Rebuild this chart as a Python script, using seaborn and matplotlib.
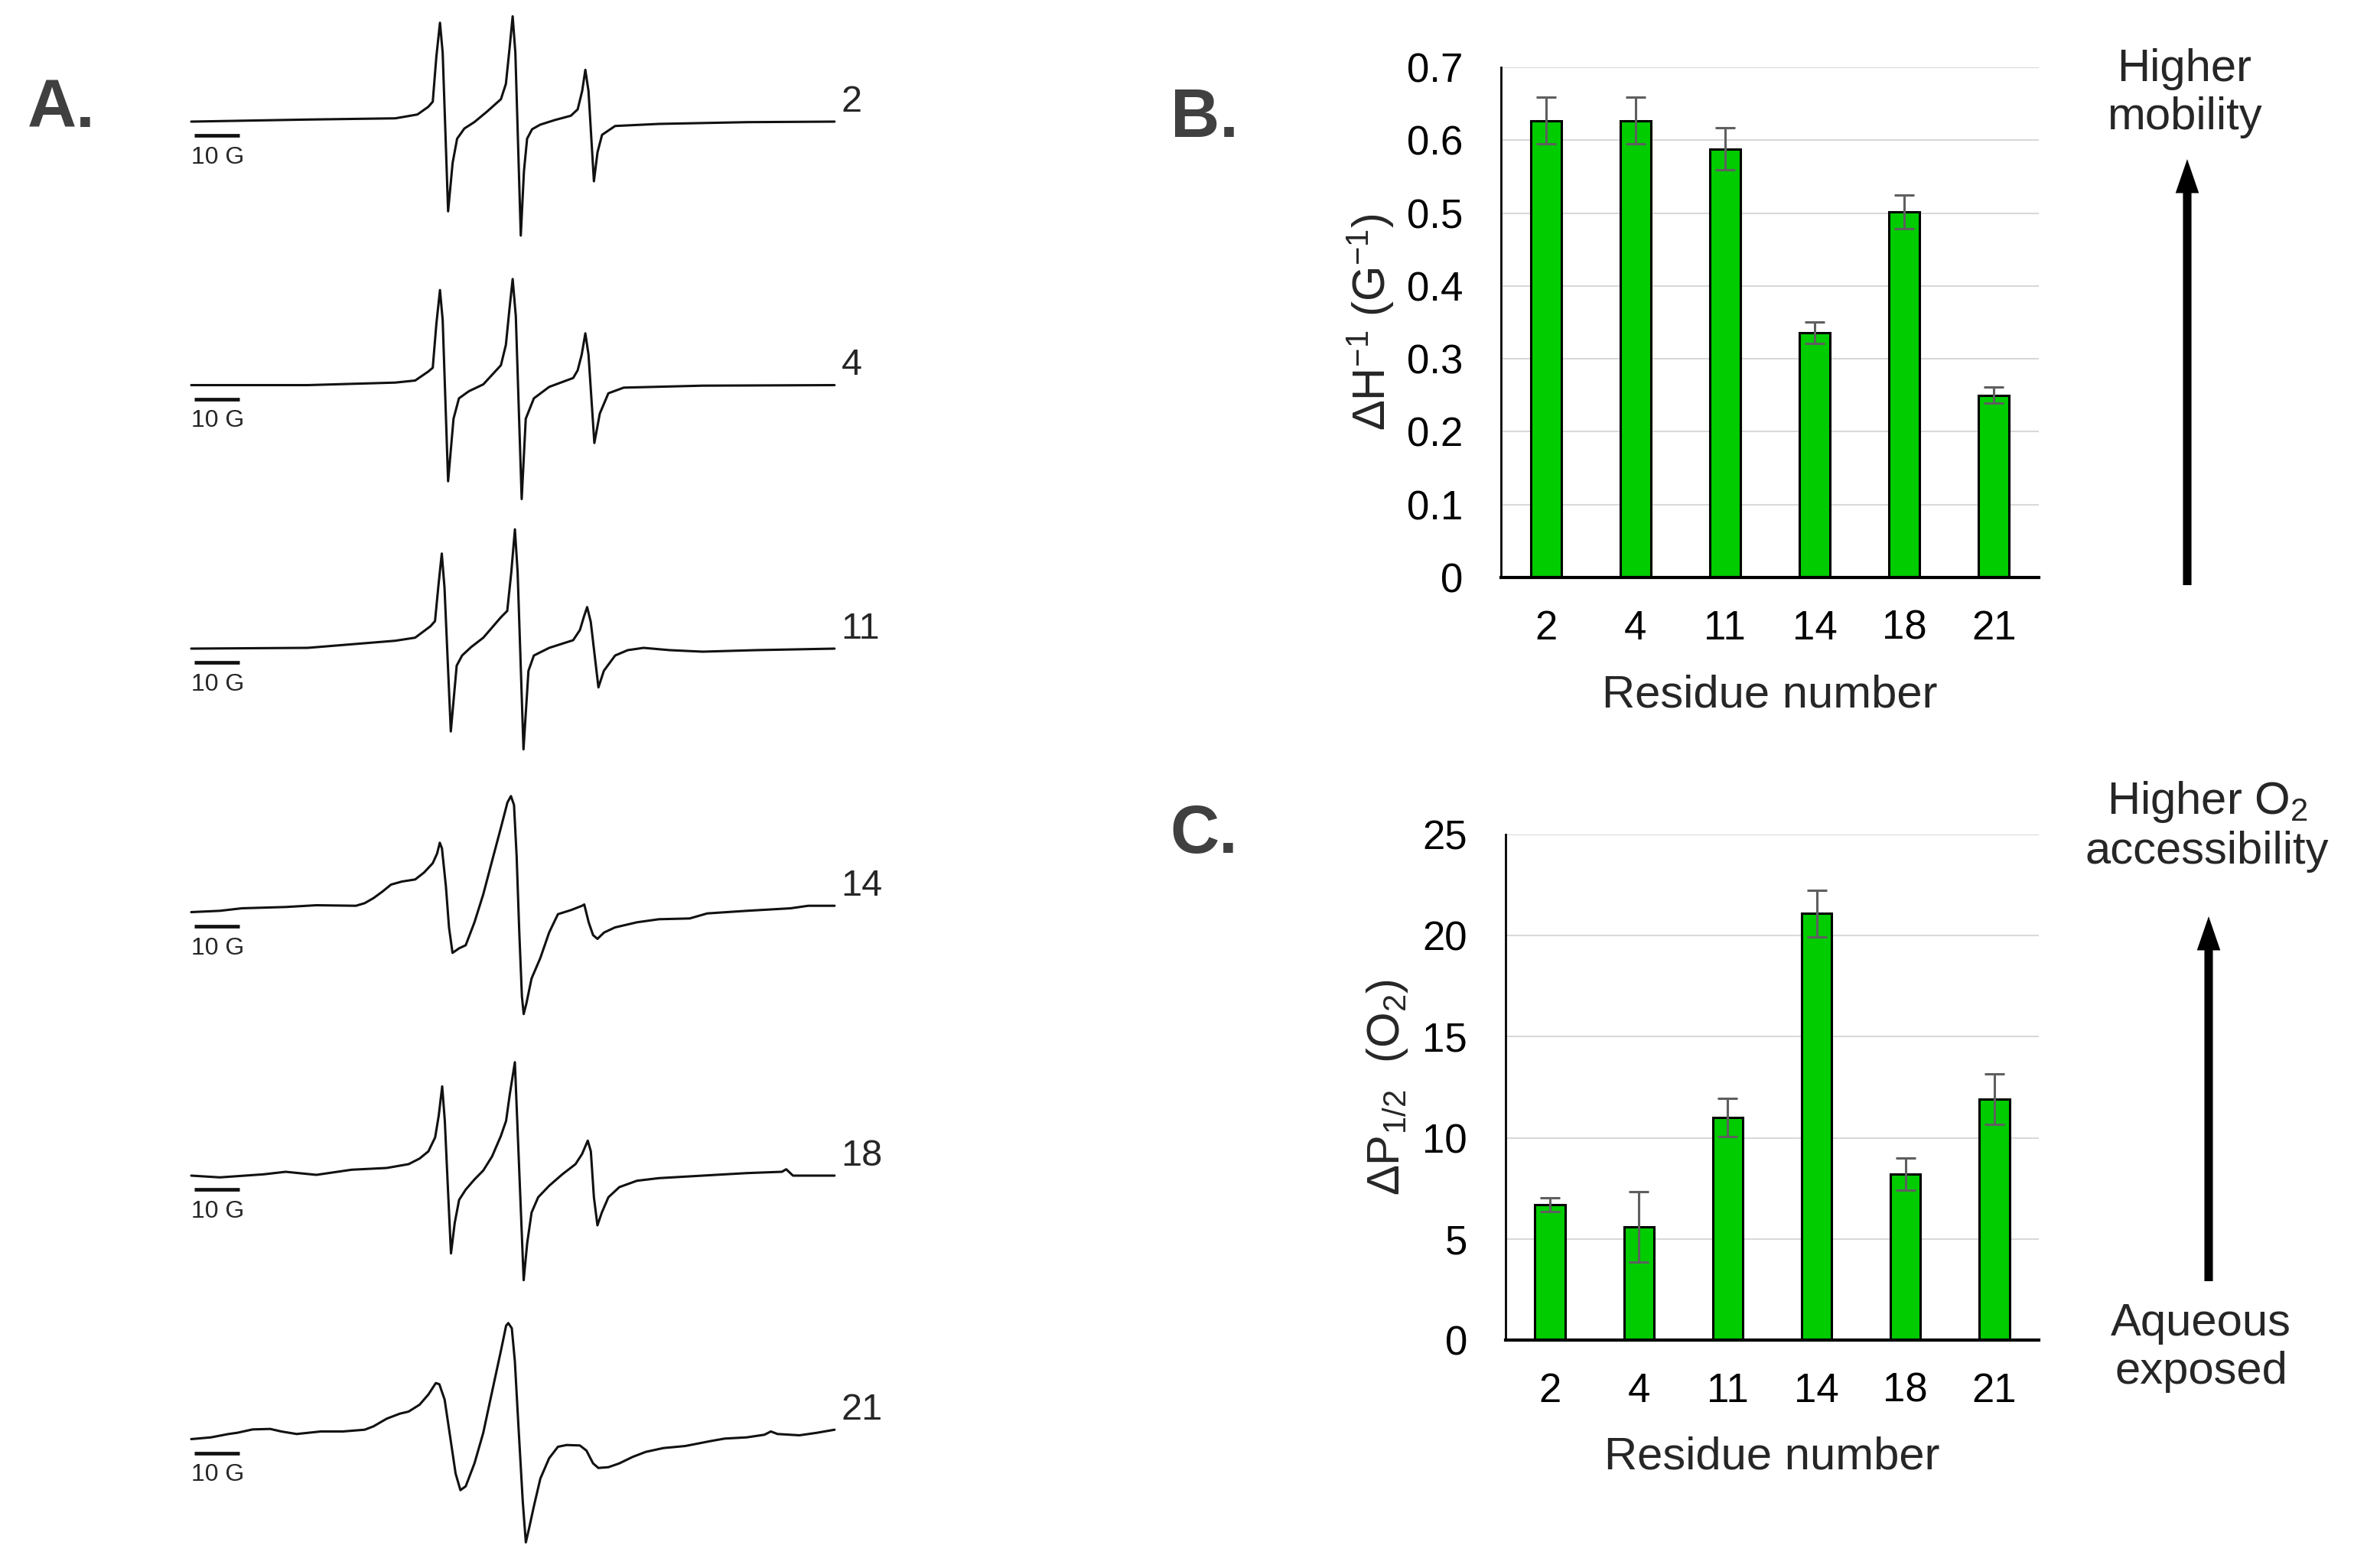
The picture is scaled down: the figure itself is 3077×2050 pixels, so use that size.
import seaborn as sns
import matplotlib.pyplot as plt
import numpy as np

# ---- data ----
residues = ["2", "4", "11", "14", "18", "21"]

# panel B: inverse central line width (G^-1)
dH_inv = [0.627, 0.627, 0.588, 0.336, 0.502, 0.250]
dH_inv_err = [0.032, 0.032, 0.029, 0.015, 0.023, 0.011]

# panel C: O2 accessibility
dP_half = [6.7, 5.6, 11.0, 21.1, 8.2, 11.9]
dP_half_err = [0.35, 1.75, 0.95, 1.15, 0.8, 1.25]

# panel A: EPR spectra, field (G, from left edge) and amplitude (a.u.)
field_2 = [0, 25.8, 45.2, 50.1, 52.5, 53.5, 54.3, 55.1, 55.7, 56.9, 57.9, 58.9, 60.5, 62.7, 65.5, 68.6,
           69.7, 70.5, 71.2, 71.8, 73.0, 73.7, 74.4, 75.5, 77.3, 80.5, 84.1, 85.6, 86.6, 87.3, 88.0,
           89.2, 90.0, 91.0, 93.9, 103.6, 123.1, 142.5]
amp_2 = [0, 0.27, 0.43, 0.93, 1.93, 2.6, 8.5, 12.93, 9.0, -11.73, -5.4, -2.23, -0.9, -0.07, 1.3, 2.93,
         4.93, 9.5, 13.77, 9.0, -14.9, -6.5, -2.23, -1.0, -0.4, 0.2, 0.77, 1.6, 4.0, 6.77, 4.0,
         -7.8, -4.0, -1.73, -0.57, -0.3, -0.07, 0]

field_4 = [0, 25.8, 45.2, 49.6, 52.5, 53.5, 54.3, 55.1, 55.7, 56.9, 58.1, 59.3, 61.5, 64.7, 68.6, 69.7,
           70.5, 71.2, 71.9, 73.2, 74.1, 75.9, 79.3, 84.6, 85.6, 86.5, 87.3, 88.0, 89.3, 90.5, 92.4,
           95.8, 113.3, 142.5]
amp_4 = [0, 0, 0.33, 0.6, 1.77, 2.27, 8.0, 12.43, 8.5, -12.57, -4.4, -1.73, -0.8, 0.1, 2.6, 5.27,
         10.0, 13.87, 9.0, -14.9, -4.4, -1.73, -0.23, 0.93, 1.93, 4.0, 6.77, 4.0, -7.57, -3.73, -1.07,
         -0.33, -0.07, 0]

field_11 = [0, 25.8, 45.2, 49.6, 53.0, 54.0, 54.8, 55.5, 56.1, 57.5, 58.8, 60.0, 62.0, 64.7, 68.6, 70.0,
            70.9, 71.7, 72.3, 73.6, 74.7, 75.9, 79.3, 84.6, 86.1, 87.0, 87.7, 88.5, 90.2, 91.4, 93.9,
            96.7, 100.2, 106.0, 113.3, 125.0, 142.5]
amp_11 = [0, 0.1, 1.03, 1.43, 2.93, 3.6, 8.5, 12.43, 8.0, -10.83, -2.23, -0.9, 0.2, 1.43, 4.1, 4.93,
          10.0, 15.6, 10.0, -13.17, -2.9, -0.9, 0.1, 1.1, 2.43, 4.2, 5.43, 3.5, -5.07, -2.9, -0.9,
          -0.2, 0.1, -0.2, -0.4, -0.2, 0]

field_14 = [0, 6.32, 11.19, 20.91, 27.72, 36.48, 38.42, 40.37, 42.32, 44.26, 46.69, 49.61, 51.56, 53.50,
            54.47, 55.06, 55.54, 56.42, 57.10, 57.88, 59.34, 60.80, 62.74, 64.69, 66.63, 68.58, 70.04,
            70.82, 71.50, 72.08, 72.67, 73.25, 73.64, 74.22, 75.39, 77.33, 79.28, 81.23, 84.14, 86.58,
            87.06, 88.04, 89.01, 89.98, 91.44, 93.87, 98.74, 103.60, 110.41, 114.30, 123.05, 132.78,
            136.67, 142.51]
amp_14 = [0, 0.17, 0.5, 0.67, 0.9, 0.83, 1.17, 1.83, 2.67, 3.6, 4.0, 4.27, 5.17, 6.4,
          7.67, 9.07, 8.33, 3.33, -2.0, -5.33, -4.73, -4.33, -1.33, 2.33, 6.67, 11.0, 14.33,
          15.17, 14.0, 7.33, -2.67, -11.0, -13.33, -12.0, -8.67, -6.0, -2.67, -0.27, 0.27, 0.83,
          1.0, -1.33, -3.0, -3.5, -2.67, -2.0, -1.33, -0.93, -0.83, -0.17, 0.17, 0.5,
          0.83, 0.83]

field_18 = [0, 6.32, 16.05, 20.91, 27.72, 35.51, 43.29, 48.15, 50.58, 52.53, 54.03, 54.82, 55.59, 56.17,
            56.95, 57.54, 58.37, 59.34, 60.80, 62.74, 64.69, 66.63, 68.58, 69.75, 70.53, 71.69, 73.64,
            74.42, 75.39, 76.85, 79.28, 82.20, 85.12, 86.58, 87.84, 88.52, 89.20, 89.98, 90.95, 92.41,
            94.84, 98.74, 103.6, 113.3, 123.05, 130.84, 131.8, 133.3, 142.5]
amp_18 = [0, -0.23, 0.17, 0.5, 0.1, 0.77, 1.0, 1.5, 2.23, 3.17, 5.0, 7.83, 11.67, 7.17,
          -2.83, -10.17, -6.17, -3.17, -1.83, -0.5, 0.67, 2.5, 5.17, 7.17, 10.5, 14.83, -13.67,
          -8.83, -4.83, -2.83, -1.33, 0.17, 1.5, 2.83, 4.57, 3.17, -2.83, -6.5, -4.83, -2.83,
          -1.5, -0.67, -0.33, 0, 0.33, 0.5, 0.83, 0, 0]

field_21 = [0, 4.38, 8.27, 10.21, 13.62, 17.51, 19.94, 23.35, 28.70, 33.56, 38.42, 40.37, 43.29, 46.21,
            48.15, 50.58, 52.53, 54.18, 54.96, 56.13, 57.39, 58.56, 59.63, 60.80, 62.74, 64.69, 66.63,
            68.58, 69.75, 70.23, 71.01, 71.69, 72.47, 73.44, 74.12, 74.90, 75.88, 77.33, 79.28, 81.23,
            83.17, 86.09, 87.55, 89.01, 90.18, 92.41, 94.84, 97.76, 100.68, 104.57, 109.44, 115.27,
            118.19, 123.05, 126.95, 128.40, 129.86, 134.73, 138.62, 142.51]
amp_21 = [0, 0.23, 0.67, 0.83, 1.27, 1.33, 1.0, 0.67, 1.0, 1.0, 1.23, 1.67, 2.67, 3.33,
          3.6, 4.5, 5.83, 7.33, 7.17, 5.17, 0.17, -4.5, -6.67, -6.17, -3.17, 0.83, 6.17,
          11.5, 14.83, 15.17, 14.5, 10.17, 1.83, -8.17, -13.5, -11.5, -8.83, -5.17, -2.5, -1.0,
          -0.77, -0.83, -1.5, -3.17, -3.77, -3.67, -3.17, -2.33, -1.67, -1.17, -0.9, -0.23,
          0.07, 0.23, 0.57, 1.0, 0.67, 0.5, 0.83, 1.23]

spectra = [(field_2, amp_2), (field_4, amp_4), (field_11, amp_11),
           (field_14, amp_14), (field_18, amp_18), (field_21, amp_21)]

# ---- style ----
sns.set_style("white")
plt.rcParams["font.family"] = ["Liberation Sans", "DejaVu Sans"]
plt.rcParams["mathtext.fontset"] = "custom"
plt.rcParams["mathtext.rm"] = "Liberation Sans"
plt.rcParams["mathtext.default"] = "regular"

W, H = 3077, 2050
green = "#00CC00"
errc = "#5f5f5f"
gridc = "#d9d9d9"
panel_c = "#404040"

fig = plt.figure(figsize=(W / 100, H / 100), dpi=100)


def fx(x):
    return x / W


def fy(y):
    return 1 - y / H


# ---- panel A: spectra ----
axA = fig.add_axes([fx(200), 0, 1000 / W, 1])
axA.set_xlim(-8.47, 161.0)
axA.set_ylim(-205, 0)
axA.axis("off")

first_base = -15.9
spacing = 34.45
for i, (fld, amp) in enumerate(spectra):
    base = first_base - i * spacing
    y = np.array(amp) + base
    sns.lineplot(x=fld, y=y, ax=axA, color="#111111", lw=2.2, estimator=None, sort=False)
    # 10 G scale bar
    axA.plot([0.7, 10.7], [base - 1.8, base - 1.8], color="#111111", lw=3.4, solid_capstyle="butt")
    axA.text(5.8, base - 3.2, "10 G", ha="center", va="top", fontsize=23)
    axA.text(fld[-1] + 1.5, y[-1] + 2.6, residues[i], ha="left", va="center", fontsize=35)

for lab, x, y in [("A.", 80, 143), ("B.", 1574, 156), ("C.", 1574, 1092)]:
    fig.text(fx(x), fy(y), lab, fontsize=64, fontweight="bold", color=panel_c, ha="center", va="center")


def bar_panel(ax, vals, errs, ylim, step, ylabel, ylab_x):
    ax.yaxis.grid(True, color=gridc, lw=1.5)
    ax.set_axisbelow(True)
    sns.barplot(x=residues, y=vals, color=green, edgecolor="black", linewidth=2.2,
                width=0.34, saturation=1, ax=ax)
    ax.errorbar(range(len(vals)), vals, yerr=errs, fmt="none", ecolor=errc,
                elinewidth=2.2, capsize=9.5, capthick=2.2, zorder=5)
    ax.set_xlim(-0.5, len(vals) - 0.5)
    ax.set_ylim(0, ylim)
    ax.set_yticks(np.arange(0, ylim + step / 2, step))
    if step < 1:
        ax.set_yticklabels(["0"] + [f"{v:.1f}" for v in np.arange(step, ylim + step / 2, step)])
    sns.despine(ax=ax, top=True, right=True)
    ax.spines["left"].set_linewidth(2.0)
    ax.spines["bottom"].set_linewidth(3.0)
    ax.spines["left"].set_color("black")
    ax.spines["bottom"].set_color("black")
    ax.tick_params(axis="both", length=0, labelsize=38, colors="black")
    ax.tick_params(axis="y", pad=36)
    ax.tick_params(axis="x", pad=30)
    ax.set_xlabel("Residue number", fontsize=43)
    ax.xaxis.set_label_coords(0.5, -0.19)
    ax.set_ylabel(ylabel, fontsize=43)
    ax.yaxis.set_label_coords(ylab_x, 0.5)


# ---- panel B ----
axB = fig.add_axes([fx(1962), fy(755), 703 / W, 667 / H])
bar_panel(axB, dH_inv, dH_inv_err, 0.7, 0.1, r"$\Delta$H$^{-1}$ (G$^{-1}$)", -0.195)

# ---- panel C ----
axC = fig.add_axes([fx(1968), fy(1752), 697 / W, 661 / H])
bar_panel(axC, dP_half, dP_half_err, 25, 5, r"$\Delta$P$_{1/2}$  (O$_2$)", -0.18)

# ---- arrows and captions ----
arrow_kw = dict(arrowstyle="simple,head_length=0.8,head_width=0.55,tail_width=0.2",
                color="black", lw=0, mutation_scale=40, shrinkA=0, shrinkB=0)
axB.annotate("", xy=(fx(2859), fy(208)), xytext=(fx(2859), fy(765)),
             xycoords="figure fraction", textcoords="figure fraction", arrowprops=arrow_kw)
axC.annotate("", xy=(fx(2887), fy(1198)), xytext=(fx(2887), fy(1675)),
             xycoords="figure fraction", textcoords="figure fraction", arrowprops=arrow_kw)

fig.text(fx(2855), fy(122), "Higher\nmobility", fontsize=43, ha="center", va="center", linespacing=1.2)
fig.text(fx(2885), fy(1080), "Higher O$_2$\naccessibility", fontsize=43, ha="center", va="center",
         linespacing=1.2)
fig.text(fx(2877), fy(1762), "Aqueous\nexposed", fontsize=43, ha="center", va="center", linespacing=1.2)

fig.savefig("out.png", dpi=100, facecolor="white")
